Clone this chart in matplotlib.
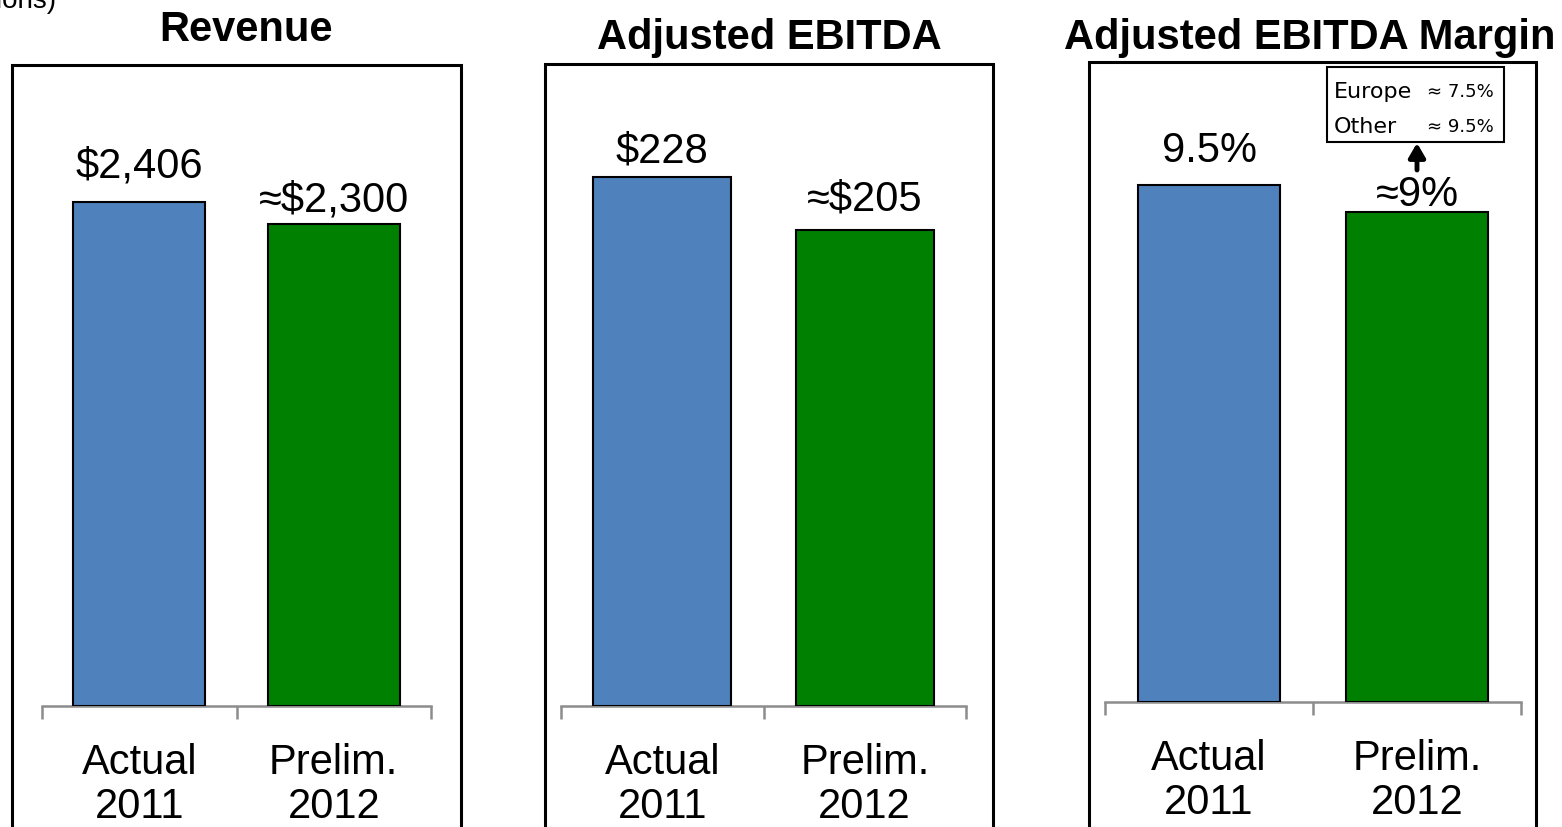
import matplotlib
matplotlib.use("Agg")
import matplotlib.pyplot as plt
from matplotlib.patches import Rectangle, FancyArrowPatch

# data
titles = ["Revenue", "Adjusted EBITDA", "Adjusted EBITDA Margin"]
categories = ["Actual\n2011", "Prelim.\n2012"]
revenue = [2406, 2300]
ebitda = [228, 205]
margin = [9.5, 9.0]
revenue_labels = ["$2,406", "\u2248$2,300"]
ebitda_labels = ["$228", "\u2248$205"]
margin_labels = ["9.5%", "\u22489%"]
region_names = ["Europe", "Other"]
region_margins = ["\u2248 7.5%", "\u2248 9.5%"]

colors = ["#4F81BD", "#008000"]

W, H = 1562, 828
plt.rcParams["font.family"] = ["Liberation Sans", "DejaVu Sans"]
fig = plt.figure(figsize=(W / 100, H / 100), dpi=100)

def fx(px):
    return px / W

def fy(py):
    return 1 - py / H

# box left, box right, box top, axis left, axis right, baseline, ymax, title x, title y, label gaps (px)
panels = [
    (12, 461, 66, 42, 431, 707, 3060, 246, 30, (25, 14)),
    (545, 993, 65, 561, 966, 707, 276.5, 769, 38, (15, 21)),
    (1089, 1536, 63, 1105, 1521, 703, 11.76, 1310, 38, (24, 7)),
]
series = [revenue, ebitda, margin]
labels = [revenue_labels, ebitda_labels, margin_labels]

for (bl, br, bt, al, ar, base, ymax, tx, ty, gaps), vals, labs, title in zip(panels, series, labels, titles):
    # outer box (runs off the bottom of the slide)
    fig.add_artist(Rectangle((fx(bl), fy(H + 20)), fx(br) - fx(bl), fy(bt) - fy(H + 20),
                             transform=fig.transFigure, fill=False, ec="black", lw=2.2,
                             clip_on=False))
    ax = fig.add_axes([fx(al), fy(base), fx(ar) - fx(al), fy(bt) - fy(base)])
    ax.set_facecolor("none")
    ax.bar([0, 1], vals, width=0.68, color=colors, edgecolor="black", linewidth=1.5, zorder=3)
    ax.set_xlim(-0.5, 1.5)
    ax.set_ylim(0, ymax)
    for s in ["top", "right", "left"]:
        ax.spines[s].set_visible(False)
    ax.spines["bottom"].set_color("#8c8c8c")
    ax.spines["bottom"].set_linewidth(1.8)
    ax.set_yticks([])
    ax.set_xticks([0, 1])
    ax.set_xticklabels(categories, fontsize=30, linespacing=1.14)
    ax.tick_params(axis="x", which="major", length=0, pad=26)
    ax.set_xticks([-0.5, 0.5, 1.5], minor=True)
    ax.tick_params(axis="x", which="minor", length=9, width=1.8, color="#8c8c8c", direction="out")
    for i, (v, lab) in enumerate(zip(vals, labs)):
        ax.annotate(lab, (i, v), xytext=(0, gaps[i] * 0.72), textcoords="offset points",
                    ha="center", va="baseline", fontsize=30)
    fig.text(fx(tx), fy(ty), title, ha="center", va="center", fontsize=30, fontweight="bold")

# cut-off units note at top-left
fig.text(fx(56), fy(1), "($ in millions)", ha="right", va="center", fontsize=20)

# regional margin callout
fig.add_artist(Rectangle((fx(1327), fy(143)), fx(1504) - fx(1327), fy(68) - fy(143),
                         transform=fig.transFigure, fill=False, ec="black", lw=1.5))
for name, m, py in zip(region_names, region_margins, [92, 127]):
    fig.text(fx(1334), fy(py), name, ha="left", va="center", fontsize=16,
             family=["DejaVu Sans"])
    fig.text(fx(1494), fy(py), m, ha="right", va="center", fontsize=13,
             family=["DejaVu Sans"])
fig.add_artist(FancyArrowPatch((fx(1417), fy(171)), (fx(1417), fy(144)),
                               transform=fig.transFigure, shrinkA=0, shrinkB=0,
                               arrowstyle="-|>,head_length=0.6,head_width=0.35",
                               mutation_scale=14, color="black", lw=3.5))

fig.savefig("out.png", dpi=100)
